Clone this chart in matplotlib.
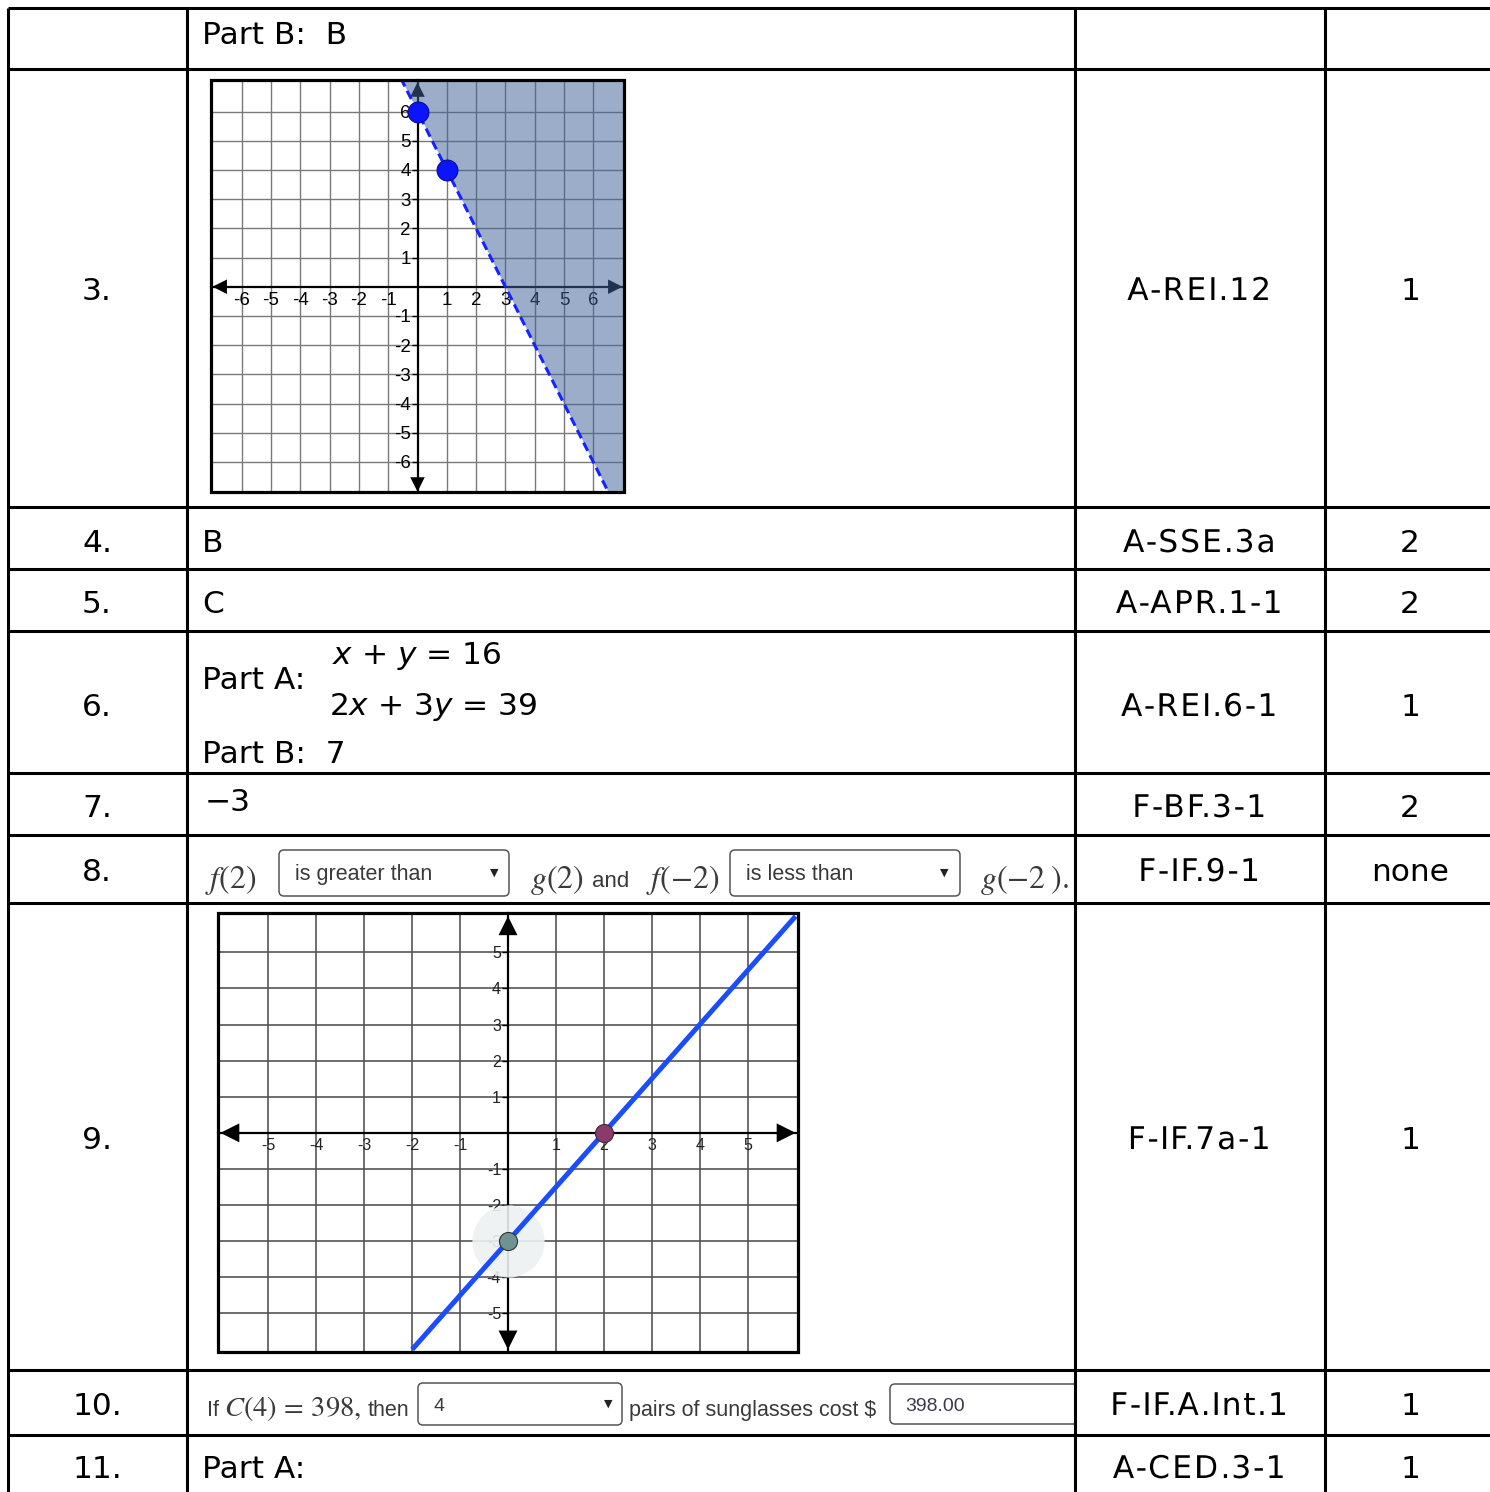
import matplotlib
matplotlib.use('Agg')
import numpy as np
import matplotlib.pyplot as plt
from matplotlib.patches import FancyBboxPatch, Rectangle
from matplotlib.patheffects import AbstractPathEffect
from matplotlib.path import Path

plt.rcParams['font.family'] = ['DejaVu Sans']
plt.rcParams['mathtext.fontset'] = 'dejavusans'

# ---------------- data ----------------
row_numbers = ['3.', '4.', '5.', '6.', '7.', '8.', '9.', '10.', '11.']
standards = ['A-REI.12', 'A-SSE.3a', 'A-APR.1-1', 'A-REI.6-1', 'F-BF.3-1',
             'F-IF.9-1', 'F-IF.7a-1', 'F-IF.A.Int.1', 'A-CED.3-1']
points = ['1', '2', '2', '1', '2', 'none', '1', '1', '1']
answers_simple = ['B', 'C']

# graph 1 (inequality through the two plotted points)
g1_points_x = [0, 1]
g1_points_y = [6, 4]
g1_ticks = [-6, -5, -4, -3, -2, -1, 1, 2, 3, 4, 5, 6]
g1_tick_labels = ['-6', '-5', '-4', '-3', '-2', '-1', '1', '2', '3', '4', '5', '6']

# graph 2 (line through (2,0) and (0,-3))
g2_line_x = [-2, 6]
g2_line_y = [-6, 6]
g2_points_x = [2, 0]
g2_points_y = [0, -3]
g2_ticks = [-5, -4, -3, -2, -1, 1, 2, 3, 4, 5]
g2_tick_labels = ['-5', '-4', '-3', '-2', '-1', '1', '2', '3', '4', '5']

# dropdown answers
dd8_left = 'is greater than'
dd8_right = 'is less than'
dd10_choice = '4'
dd10_cost = '398.00'


# ---------------- helpers ----------------
class Tracking(AbstractPathEffect):
    """Spread glyph outlines apart horizontally (letter spacing)."""

    def __init__(self, factor):
        super().__init__()
        self.factor = factor

    def draw_path(self, renderer, gc, tpath, affine, rgbFace=None):
        verts = np.array(tpath.vertices, dtype=float)
        codes = tpath.codes
        if codes is None or len(verts) == 0:
            renderer.draw_path(gc, tpath, affine, rgbFace)
            return
        real = codes != Path.CLOSEPOLY
        xmin, xmax = verts[real, 0].min(), verts[real, 0].max()
        ref = 0.5 * (xmin + xmax)
        starts = list(np.where(codes == Path.MOVETO)[0]) + [len(verts)]
        new = verts.copy()
        for s, e in zip(starts[:-1], starts[1:]):
            m = real[s:e]
            sx = verts[s:e][m, 0].min() if m.any() else ref
            new[s:e, 0] += (self.factor - 1.0) * (sx - ref)
        renderer.draw_path(gc, Path(new, codes), affine, rgbFace)


# ---------------- layout ----------------
W, H = 1490, 1492
fig = plt.figure(figsize=(W / 100, H / 100), dpi=100)
bg = fig.add_axes([0, 0, 1, 1])
bg.set_xlim(0, W)
bg.set_ylim(H, 0)
bg.axis('off')

row_lines = [8, 69, 507, 569, 631, 773, 835, 903, 1370, 1435]
col_lines = [8, 187, 1075, 1325]
TLW = 2.2
for y in row_lines:
    bg.plot([8, W], [y, y], color='black', lw=TLW, solid_capstyle='butt', zorder=5)
for x in col_lines:
    bg.plot([x, x], [8, H], color='black', lw=TLW, solid_capstyle='butt', zorder=5)

FS = 22.5
row_base = [300, 552, 613, 716, 817, 881, 1149, 1415, 1478]
c1, c3, c4 = 97, 1200, 1410
for num, std, pt, yb in zip(row_numbers, standards, points, row_base):
    bg.text(c1, yb, num, fontsize=FS, ha='center', va='baseline')
    bg.text(c3, yb, std, fontsize=FS, ha='center', va='baseline',
            path_effects=[Tracking(1.1)])
    bg.text(c4, yb, pt, fontsize=FS, ha='center', va='baseline')

TX = 202
bg.text(TX, 44, 'Part B:  B', fontsize=FS, va='baseline')
bg.text(TX, 552, answers_simple[0], fontsize=FS, va='baseline')
bg.text(TX, 613, answers_simple[1], fontsize=FS, va='baseline')
bg.text(TX, 689, 'Part A:', fontsize=FS, va='baseline')
bg.text(332, 664, r'$x$ + $y$ = 16', fontsize=FS, va='baseline')
bg.text(329, 715, r'2$x$ + 3$y$ = 39', fontsize=FS, va='baseline')
bg.text(TX, 763, 'Part B:  7', fontsize=FS, va='baseline')
bg.text(205, 811, '\u22123', fontsize=FS, va='baseline')
bg.text(TX, 1478, 'Part A:', fontsize=FS, va='baseline')

# ---------------- widgets (rows 8 & 10) ----------------
WC = '#3a3a3a'
SANS = ['Liberation Sans', 'DejaVu Sans']
MFS = 23


def box(x, y, w, h, clip=None):
    p = FancyBboxPatch((x, y), w, h, boxstyle='round,pad=0,rounding_size=5',
                       fc='white', ec='#555555', lw=1.1, zorder=3)
    bg.add_patch(p)
    if clip is not None:
        p.set_clip_path(clip)
    return p


# row 8
bg.text(205, 888, r'$f(2)$', fontsize=MFS, math_fontfamily='stix', color=WC, va='baseline')
box(279, 850, 230, 46)
bg.text(295, 880, dd8_left, fontsize=15.5, family=SANS, color=WC, va='baseline')
bg.text(494, 873, '\u25BC', fontsize=8, color='#222222', ha='center', va='center')
bg.text(530, 888, r'$g(2)$', fontsize=MFS, math_fontfamily='stix', color=WC, va='baseline')
bg.text(592, 887, 'and', fontsize=16, family=SANS, color=WC, va='baseline')
bg.text(646, 888, r'$f(-2)$', fontsize=MFS, math_fontfamily='stix', color=WC, va='baseline')
box(730, 850, 230, 46)
bg.text(746, 880, dd8_right, fontsize=15.5, family=SANS, color=WC, va='baseline')
bg.text(944, 873, '\u25BC', fontsize=8, color='#222222', ha='center', va='center')
bg.text(980, 888, r'$g(-2\;).$', fontsize=MFS, math_fontfamily='stix', color=WC, va='baseline')

# row 10
bg.text(207, 1416, 'If', fontsize=15.5, family=SANS, color=WC, va='baseline')
bg.text(224, 1416, r'$C(4)\,=\,398,$', fontsize=20.5, math_fontfamily='stix', color=WC,
        va='baseline')
bg.text(368, 1416, 'then', fontsize=15.5, family=SANS, color=WC, va='baseline')
box(418, 1383, 204, 42)
bg.text(433, 1411, dd10_choice, fontsize=14, family=SANS, color=WC, va='baseline')
bg.text(608, 1404, '\u25BC', fontsize=8, color='#222222', ha='center', va='center')
bg.text(629, 1416, 'pairs of sunglasses cost $', fontsize=15.5, family=SANS, color=WC,
        va='baseline')
clip_rect = Rectangle((187, 1370), 888, 65, transform=bg.transData)
box(890, 1384, 240, 40, clip=clip_rect)
bg.text(905, 1411, dd10_cost, fontsize=14, family=SANS, color='#3a3a50', va='baseline')


# ---------------- graphs ----------------
def setup_graph(ax, xlim, ylim, ticks, labels, grid_color, grid_lw, axis_lw,
                frame_lw, lab_size, lab_color):
    ax.set_facecolor('white')
    for s in ['top', 'right']:
        ax.spines[s].set_visible(False)
    for s in ['left', 'bottom']:
        ax.spines[s].set_position(('data', 0))
        ax.spines[s].set_linewidth(axis_lw)
        ax.spines[s].set_color('black')
    ax.set_xlim(*xlim)
    ax.set_ylim(*ylim)
    ax.set_xticks(ticks)
    ax.set_xticklabels(labels, fontsize=lab_size, family=SANS, color=lab_color)
    ax.set_yticks(ticks)
    ax.set_yticklabels(labels, fontsize=lab_size, family=SANS, color=lab_color)
    ax.grid(True, color=grid_color, lw=grid_lw)
    ax.set_axisbelow(True)
    ax.tick_params(axis='x', length=0, pad=4, labelsize=lab_size, labelcolor=lab_color)
    ax.tick_params(axis='y', length=4, width=1, direction='out', pad=1,
                   labelsize=lab_size, labelcolor=lab_color)
    ax.add_patch(Rectangle((0, 0), 1, 1, transform=ax.transAxes, fill=False,
                           lw=frame_lw, ec='black', zorder=10, clip_on=False))


def arrows(ax, ends, ms, color):
    for e in ends:
        ax.annotate('', xy=e, xytext=(0, 0), annotation_clip=False,
                    arrowprops=dict(arrowstyle='-|>', color=color, lw=0.01,
                                    mutation_scale=ms, shrinkA=0, shrinkB=0),
                    zorder=2.8)


# graph 1
g1 = fig.add_axes([211 / W, 1 - 492 / H, 413 / W, 412 / H])
setup_graph(g1, (-7.05, 7.05), (-7.03, 7.08), g1_ticks, g1_tick_labels,
            '#7a7a7a', 1.0, 1.6, 2.3, 13.5, '#000000')
arrows(g1, [(7.0, 0), (-7.0, 0), (0, 7.0), (0, -7.02)], 26, 'black')
slope = (g1_points_y[1] - g1_points_y[0]) / (g1_points_x[1] - g1_points_x[0])
icpt = g1_points_y[0] - slope * g1_points_x[0]
xs = [-1.0, 8.0]
ys = [slope * v + icpt for v in xs]
g1.fill_between(xs, ys, [9, 9], color='#426299', alpha=0.52, lw=0, zorder=3)
g1.plot(xs, ys, color='#1424ff', lw=2.2, dashes=(3, 1.6), zorder=5)
g1.plot(g1_points_x, g1_points_y, 'o', ms=15, color='#0a14ff', mec='#0a0a90', mew=0.8, zorder=6)

# graph 2
g2 = fig.add_axes([218 / W, 1 - 1352 / H, 580 / W, 439 / H])
setup_graph(g2, (-6.05, 6.05), (-6.07, 6.09), g2_ticks, g2_tick_labels,
            '#555555', 1.2, 1.6, 2.3, 11.5, '#222222')
arrows(g2, [(6.0, 0), (-6.0, 0), (0, 6.0), (0, -6.0)], 34, 'black')
g2.plot([g2_points_x[1]], [g2_points_y[1]], 'o', ms=52, color='#edf1f1', alpha=0.9,
        mew=0, zorder=3)
g2.plot(g2_line_x, g2_line_y, color='#1a4dff', lw=3.6, solid_capstyle='butt', zorder=4)
g2.plot([g2_points_x[0]], [g2_points_y[0]], 'o', ms=13, color='#8c3a6c', mec='#333333',
        mew=0.8, zorder=5)
g2.plot([g2_points_x[1]], [g2_points_y[1]], 'o', ms=13, color='#6f9391', mec='#333333',
        mew=0.8, zorder=5)

fig.savefig('out.png', dpi=100)
